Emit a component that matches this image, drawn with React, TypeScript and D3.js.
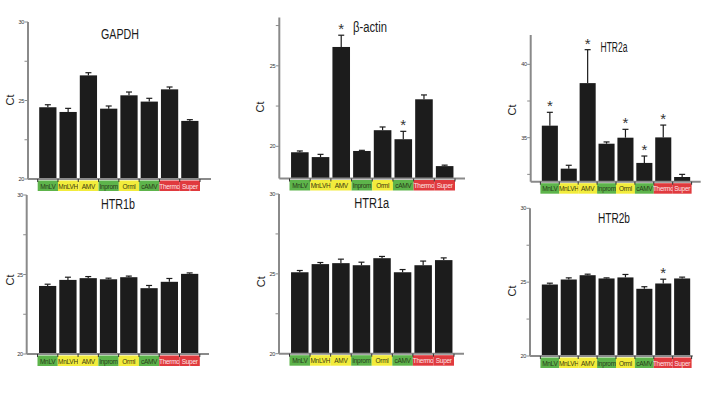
import React, { useEffect, useRef } from "react";
import * as d3 from "d3";

const categories = ["MnLV", "MnLVH", "AMV", "Inprom", "Orml", "cAMV", "Thermo", "Super"];
const groups = ["green", "yellow", "yellow", "green", "yellow", "green", "red", "red"];
const groupFill: Record<string, string> = { green: "#5db44b", yellow: "#f2ec3c", red: "#e03a3e" };
const groupText: Record<string, string> = { green: "#2a3a1a", yellow: "#3a3a10", red: "#fde6e6" };

// mean Ct and error (upper SEM) per region
const gapdhMean = [24.57, 24.27, 26.6, 24.48, 25.33, 24.93, 25.71, 23.7];
const gapdhErr = [0.16, 0.23, 0.17, 0.17, 0.21, 0.21, 0.15, 0.08];
const actinMean = [19.63, 19.33, 26.17, 19.71, 21.0, 20.44, 22.92, 18.77];
const actinErr = [0.08, 0.17, 0.73, 0.04, 0.2, 0.49, 0.27, 0.06];
const htr2aMean = [35.82, 32.89, 38.72, 34.59, 35.0, 33.28, 35.02, 32.32];
const htr2aErr = [0.91, 0.23, 2.28, 0.12, 0.57, 0.47, 0.84, 0.18];
const htr1bMean = [24.28, 24.66, 24.77, 24.7, 24.83, 24.14, 24.54, 25.04];
const htr1bErr = [0.11, 0.17, 0.1, 0.07, 0.07, 0.17, 0.21, 0.06];
const htr1aMean = [25.1, 25.61, 25.67, 25.54, 25.98, 25.1, 25.54, 25.86];
const htr1aErr = [0.11, 0.1, 0.25, 0.19, 0.11, 0.17, 0.26, 0.14];
const htr2bMean = [24.84, 25.18, 25.47, 25.25, 25.32, 24.55, 24.91, 25.25];
const htr2bErr = [0.09, 0.11, 0.07, 0.04, 0.2, 0.14, 0.29, 0.09];

// indices of bars marked with *
const actinSig = [2, 5];
const htr2aSig = [0, 2, 4, 5, 6];
const htr2bSig = [6];

const panels = [
  { title: "GAPDH", mean: gapdhMean, err: gapdhErr, sig: [] as number[], domain: [20, 30], ticks: [20, 22.5, 25, 27.5, 30], labels: [20, 25, 30],
    ax: 28, top: 22, bottom: 179, xEnd: 211, band: [37.7, 200], tx: 120, ty: 39, tw: 38, cx: 10, cy: 100 },
  { title: "β-actin", mean: actinMean, err: actinErr, sig: actinSig, domain: [18, 28], ticks: [20, 22.5, 25, 27.5], labels: [20, 25],
    ax: 279.3, top: 17.5, bottom: 178.5, xEnd: 465, band: [289.5, 455], tx: 370, ty: 32, tw: 34, cx: 260, cy: 107 },
  { title: "HTR2a", mean: htr2aMean, err: htr2aErr, sig: htr2aSig, domain: [32, 42], ticks: [32.5, 35, 37.5, 40], labels: [35, 40],
    ax: 530.7, top: 35, bottom: 181.7, xEnd: 700.7, band: [540.4, 691.6], tx: 614, ty: 51.5, tw: 27, cx: 511.5, cy: 110 },
  { title: "HTR1b", mean: htr1bMean, err: htr1bErr, sig: [] as number[], domain: [20, 30], ticks: [20, 22.5, 25, 27.5, 30], labels: [20, 25, 30],
    ax: 26.7, top: 195, bottom: 354, xEnd: 209, band: [37.5, 199.8], tx: 118, ty: 209, tw: 34, cx: 10, cy: 280 },
  { title: "HTR1a", mean: htr1aMean, err: htr1aErr, sig: [] as number[], domain: [20, 30], ticks: [20, 22.5, 25, 27.5, 30], labels: [20, 25, 30],
    ax: 279, top: 194, bottom: 353.7, xEnd: 464, band: [289.5, 454], tx: 371.7, ty: 208.3, tw: 35, cx: 260.7, cy: 281.7 },
  { title: "HTR2b", mean: htr2bMean, err: htr2bErr, sig: htr2bSig, domain: [20, 30], ticks: [20, 22.5, 25, 27.5, 30], labels: [20, 25, 30],
    ax: 530, top: 208.3, bottom: 356, xEnd: 692.7, band: [540.4, 691.6], tx: 614, ty: 222.5, tw: 32, cx: 511.5, cy: 291 },
];

const font = "'Liberation Sans', Arial, sans-serif";

export default function App() {
  const ref = useRef<SVGSVGElement>(null);

  useEffect(() => {
    const svg = d3.select(ref.current);
    svg.selectAll("*").remove();

    panels.forEach((p) => {
      const g = svg.append("g");
      const y = d3.scaleLinear().domain(p.domain).range([p.bottom, p.top]);
      const x = d3.scaleBand().domain(categories).range(p.band as [number, number]).paddingInner(0.15).paddingOuter(0.075);
      const step = x.step();
      const pad = (step - x.bandwidth()) / 2;

      // category boxes
      categories.forEach((c, i) => {
        const x0 = (x(c) as number) - pad;
        g.append("rect")
          .attr("x", x0).attr("y", p.bottom + 1.5)
          .attr("width", step).attr("height", 10.5)
          .attr("fill", groupFill[groups[i]]);
        g.append("text")
          .attr("x", x0 + step / 2).attr("y", p.bottom + 9.5)
          .attr("text-anchor", "middle")
          .attr("font-family", font).attr("font-size", 6.5)
          .attr("letter-spacing", -0.3)
          .attr("fill", groupText[groups[i]])
          .text(c);
      });

      // bars
      g.selectAll(".bar").data(p.mean).enter().append("rect")
        .attr("x", (d, i) => x(categories[i]) as number)
        .attr("y", (d) => y(d))
        .attr("width", x.bandwidth())
        .attr("height", (d) => p.bottom - y(d))
        .attr("fill", "#1c1c1c");

      // error bars (upper only)
      p.mean.forEach((m, i) => {
        const cxm = (x(categories[i]) as number) + x.bandwidth() / 2;
        const yt = y(m + p.err[i]);
        g.append("line").attr("x1", cxm).attr("x2", cxm).attr("y1", y(m)).attr("y2", yt)
          .attr("stroke", "#1c1c1c").attr("stroke-width", 1.2);
        g.append("line").attr("x1", cxm - 3).attr("x2", cxm + 3).attr("y1", yt).attr("y2", yt)
          .attr("stroke", "#1c1c1c").attr("stroke-width", 1.2);
      });

      // significance stars
      p.sig.forEach((i) => {
        const cxm = (x(categories[i]) as number) + x.bandwidth() / 2;
        g.append("text")
          .attr("x", cxm).attr("y", y(p.mean[i] + p.err[i]) - 1)
          .attr("text-anchor", "middle")
          .attr("font-family", font).attr("font-size", 15)
          .attr("fill", "#333")
          .text("*");
      });

      // y axis
      g.append("line").attr("x1", p.ax).attr("x2", p.ax).attr("y1", p.top).attr("y2", p.bottom)
        .attr("stroke", "#8a8a8a").attr("stroke-width", 2);
      p.ticks.forEach((t) => {
        g.append("line").attr("x1", p.ax - 3.5).attr("x2", p.ax).attr("y1", y(t)).attr("y2", y(t))
          .attr("stroke", "#8a8a8a").attr("stroke-width", 1);
      });
      p.labels.forEach((t) => {
        g.append("text").attr("x", p.ax - 4).attr("y", y(t) + 2)
          .attr("text-anchor", "end")
          .attr("font-family", font).attr("font-size", 5.5)
          .attr("letter-spacing", -0.3)
          .attr("fill", "#333")
          .text(t);
      });

      // x axis
      g.append("line").attr("x1", p.ax).attr("x2", p.xEnd).attr("y1", p.bottom).attr("y2", p.bottom)
        .attr("stroke", "#8a8a8a").attr("stroke-width", 2);
      d3.range(categories.length + 1).forEach((k) => {
        const xx = p.band[0] + k * step;
        g.append("line").attr("x1", xx).attr("x2", xx).attr("y1", p.bottom).attr("y2", p.bottom + 3)
          .attr("stroke", "#333").attr("stroke-width", 1);
      });

      // title
      g.append("text")
        .attr("x", p.tx).attr("y", p.ty)
        .attr("text-anchor", "middle")
        .attr("font-family", font).attr("font-size", 14)
        .attr("textLength", p.tw).attr("lengthAdjust", "spacingAndGlyphs")
        .attr("fill", "#1a1a1a")
        .text(p.title);

      // y label
      g.append("text")
        .attr("transform", "translate(" + p.cx + "," + p.cy + ") rotate(-90)")
        .attr("text-anchor", "middle")
        .attr("dominant-baseline", "central")
        .attr("font-family", font).attr("font-size", 11)
        .attr("fill", "#1a1a1a")
        .text("Ct");
    });
  }, []);

  return (
    <svg ref={ref} width={724} height={398}
      style={{ position: "absolute", left: 0, top: 0, background: "#fff" }} />
  );
}
